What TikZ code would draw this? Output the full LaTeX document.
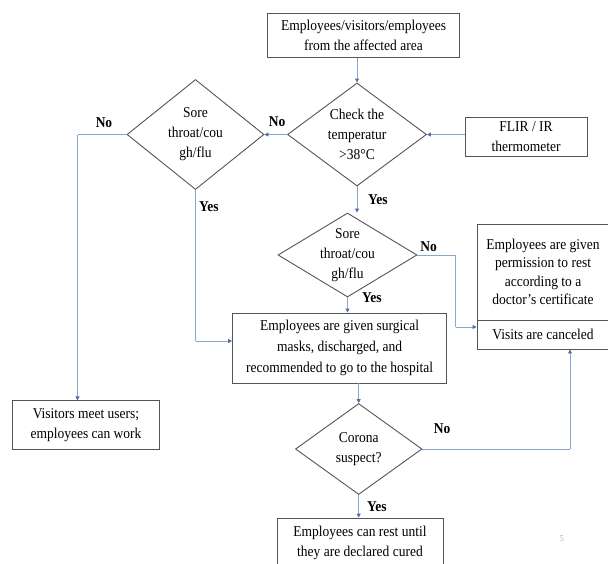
\documentclass[tikz,border=0pt]{standalone}
\usepackage{fontspec}
\setmainfont{Liberation Serif}[FakeStretch=0.9]
\usetikzlibrary{shapes.geometric,arrows.meta}
\definecolor{linec}{HTML}{8AA6CF}
\definecolor{tipc}{HTML}{4F6FA8}
\definecolor{boxc}{HTML}{555555}
\begin{document}
\begin{tikzpicture}[x=1pt,y=-1pt,
  font=\fontsize{15}{20}\selectfont,
  box/.style={draw=boxc,line width=0.9pt,rectangle,align=center,inner sep=0pt},
  dia/.style={draw=boxc,line width=0.9pt,diamond,inner sep=0pt},
  txt/.style={align=center,inner sep=0pt},
  lbl/.style={font=\fontsize{15}{18}\selectfont\bfseries,inner sep=0pt},
  conn/.style={draw=linec,line width=0.9pt,-{Triangle[length=4pt,width=4pt,color=tipc]}},
  plain/.style={draw=linec,line width=0.9pt}]
\useasboundingbox (0,0) rectangle (608,563);
\clip (0,0) rectangle (608,563);
% nodes
\node[box,minimum width=192,minimum height=44] (top) at (363.5,35.5) {Employees/visitors/employees\\from the affected area};
\node[dia,minimum width=139,minimum height=103] (d1) at (357,134.5) {};
\node[txt] at (d1) {Check the\\temperatur\\>38°C};
\node[box,minimum width=122,minimum height=39] (flir) at (526,136.5) {FLIR / IR\\thermometer};
\node[dia,minimum width=137,minimum height=110] (d2) at (195.5,134.5) {};
\node[txt] at (d2) {Sore\\throat/cou\\gh/flu};
\node[dia,minimum width=139,minimum height=84] (d3) at (347.5,255) {};
\node[txt] at (d3) {Sore\\throat/cou\\gh/flu};
\node[box,minimum width=132,minimum height=96,font=\fontsize{15}{18.5}\selectfont] (perm) at (543,272) {Employees are given\\permission to rest\\according to a\\doctor{\char"27}s certificate};
\node[box,minimum width=132,minimum height=29] (visits) at (543,334.5) {Visits are canceled};
\node[box,minimum width=214,minimum height=70,font=\fontsize{15}{21}\selectfont] (main) at (339.6,348) {Employees are given surgical\\masks, discharged, and\\recommended to go to the hospital};
\node[box,minimum width=146.6,minimum height=48.3] (vis) at (86,425) {Visitors meet users;\\employees can work};
\node[dia,minimum width=126.5,minimum height=91] (d4) at (358.7,449) {};
\node[txt] at (d4) {Corona\\suspect?};
\node[box,minimum width=166,minimum height=50] (fin) at (360,543) {Employees can rest until\\they are declared cured};
\node[font=\fontsize{9}{10}\selectfont,text=gray!60] (pg) at (562,539) {5};
% labels
\node[lbl] (l1) at (277,122) {No};
\node[lbl] (l2) at (104,123) {No};
\node[lbl,anchor=west] (l3) at (199,207) {Yes};
\node[lbl,anchor=west] (l4) at (368,200) {Yes};
\node[lbl] (l5) at (428.5,247) {No};
\node[lbl,anchor=west] (l6) at (362,298) {Yes};
\node[lbl] (l7) at (442,429) {No};
\node[lbl,anchor=west] (l8) at (367,507) {Yes};
% coordinates
\coordinate (c1) at (77.5,134.5);
\coordinate (c2) at (195.5,341);
\coordinate (c3) at (455.6,255);
\coordinate (c4) at (455.6,327);
\coordinate (c5) at (570,449);
% connectors
\draw[conn] (d1.north |- top.south) -- (d1.north);
\draw[conn] (flir.west |- d1.east) -- (d1.east);
\draw[conn] (d1.west) -- (d2.east);
\draw[plain] (d2.west) -- (c1);
\draw[conn] (c1) -- (c1 |- vis.north);
\draw[plain] (d2.south) -- (c2);
\draw[conn] (c2) -- (c2 -| main.west);
\draw[conn] (d1.south) -- (d1.south |- d3.north);
\draw[conn] (d3.south) -- (d3.south |- main.north);
\draw[plain] (d3.east) -- (c3) -- (c4);
\draw[conn] (c4) -- (c4 -| visits.west);
\draw[conn] (d4.north |- main.south) -- (d4.north);
\draw[plain] (d4.east) -- (c5);
\draw[conn] (c5) -- (c5 |- visits.south);
\draw[conn] (d4.south) -- (d4.south |- fin.north);
\end{tikzpicture}
\end{document}
